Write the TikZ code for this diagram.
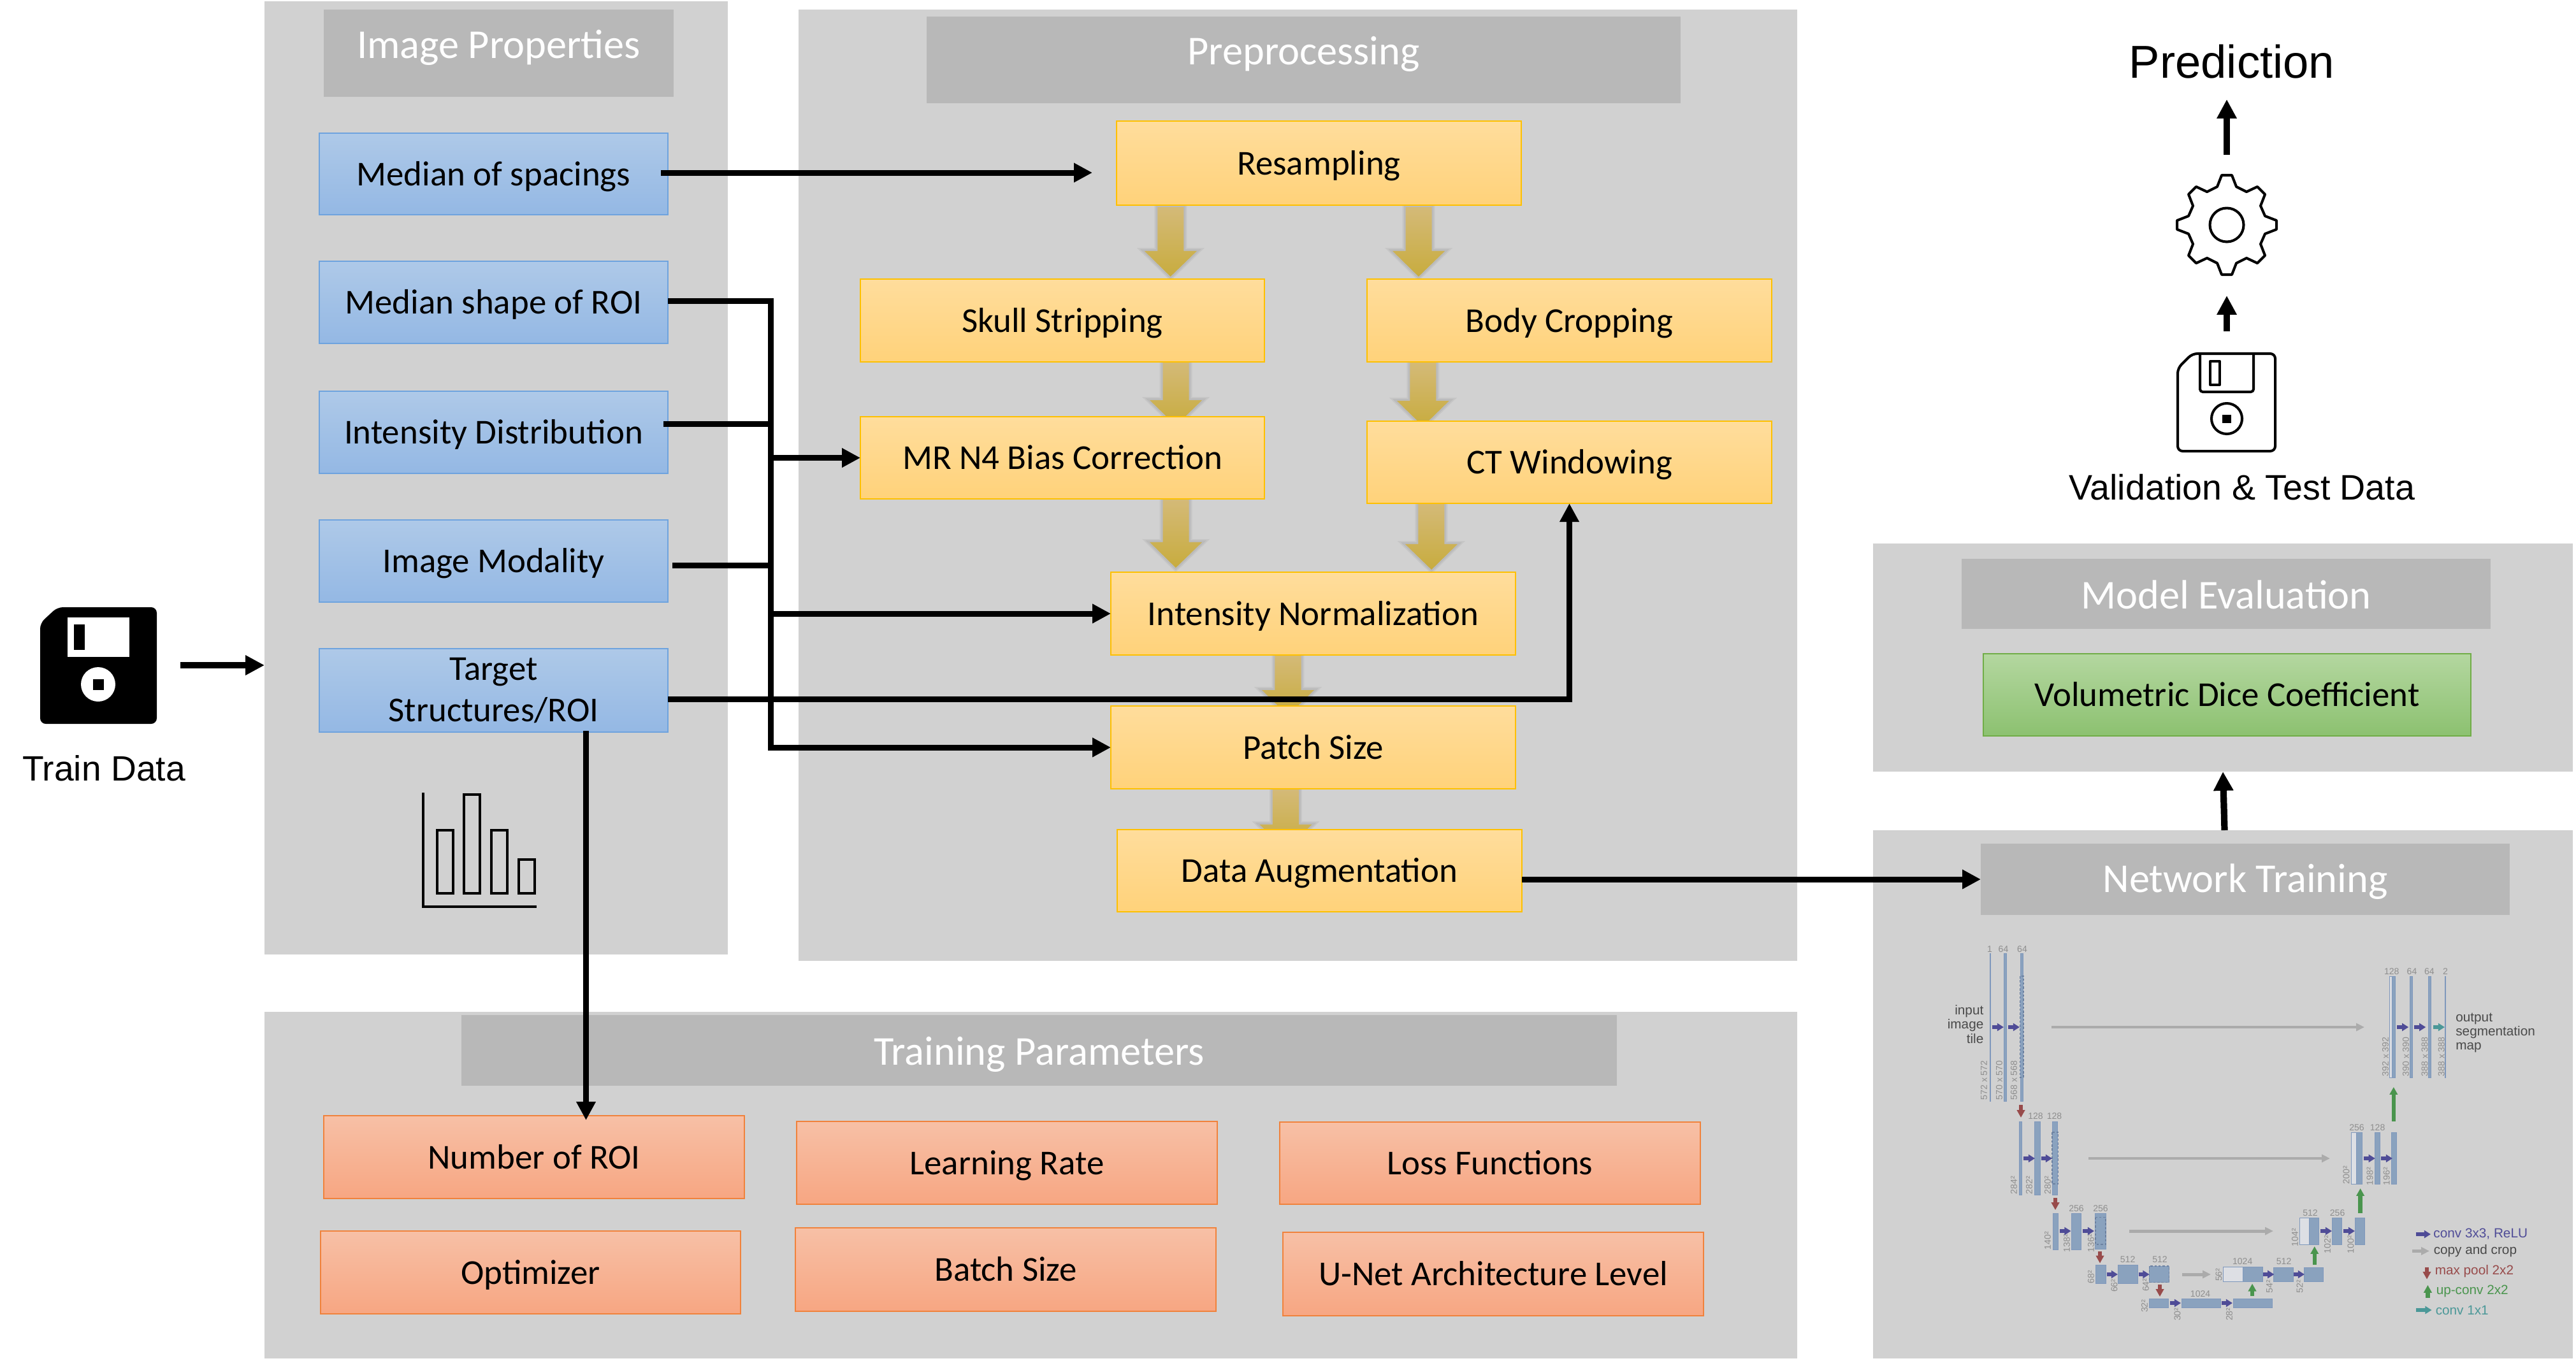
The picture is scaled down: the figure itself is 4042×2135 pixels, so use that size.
\documentclass[tikz,border=0pt]{standalone}
\usepackage{fontspec}
\setmainfont{Carlito}
\newfontfamily\arialf{Liberation Sans}
\usetikzlibrary{arrows.meta,calc}
\pgfdeclarelayer{panellayer}
\pgfdeclarelayer{goldlayer}
\pgfsetlayers{panellayer,goldlayer,main}
\newdimen\pxu \pxu=0.284528pt
\definecolor{panelc}{HTML}{D1D1D1}
\definecolor{headc}{HTML}{B8B8B8}
\definecolor{ubarc}{HTML}{8AA2BE}
\definecolor{uedge}{HTML}{7F98BC}
\definecolor{uwhite}{HTML}{DDDFE4}
\definecolor{upur}{HTML}{4F4C97}
\definecolor{ured}{HTML}{984B4B}
\definecolor{ugrn}{HTML}{4A954E}
\definecolor{uteal}{HTML}{4B9898}
\definecolor{ugry}{HTML}{ABABAB}
\definecolor{utxt}{HTML}{8E8E8E}
\definecolor{udark}{HTML}{4A4A4A}
\tikzset{
  panelbox/.style={fill=panelc,draw=none,inner sep=0pt,outer sep=0pt},
  headbox/.style={fill=headc,draw=none,inner sep=0pt,outer sep=0pt,text=white,align=center,font=\fontsize{18.3pt}{22pt}\selectfont},
  basebox/.style={inner sep=0pt,outer sep=0pt,align=center,line width=0.7pt,font=\fontsize{15.6pt}{18.5pt}\selectfont,text=black},
  bluebox/.style={basebox,draw={rgb,255:red,110;green,163;blue,222},top color={rgb,255:red,174;green,201;blue,232},bottom color={rgb,255:red,148;green,184;blue,228}},
  yelbox/.style={basebox,draw={rgb,255:red,255;green,192;blue,0},top color={rgb,255:red,255;green,221;blue,156},bottom color={rgb,255:red,255;green,210;blue,122}},
  salbox/.style={basebox,draw={rgb,255:red,240;green,130;blue,60},top color={rgb,255:red,247;green,192;blue,166},bottom color={rgb,255:red,247;green,166;blue,130}},
  grnbox/.style={basebox,draw={rgb,255:red,112;green,173;blue,71},top color={rgb,255:red,180;green,215;blue,160},bottom color={rgb,255:red,140;green,193;blue,112}},
  blk/.style={line width=2.56pt,draw=black,-{Triangle[length=8.25pt,width=8.2pt]}},
  blkline/.style={line width=2.56pt,draw=black},
  blkbig/.style={line width=2.9pt,draw=black,-{Triangle[length=8.5pt,width=8.4pt]}},
  goldfill/.style={top color={rgb,255:red,212;green,186;blue,120},bottom color={rgb,255:red,200;green,172;blue,62},draw=none},
  goldshade/.style={draw=black,draw opacity=0.05,fill=none},
  plaintxt/.style={inner sep=0pt,font=\arialf\fontsize{15.8pt}{18pt}\selectfont},
  iconline/.style={draw=black,line width=1.15pt,fill=none,line join=round},
  ubarst/.style={fill=ubarc,draw=uedge,line width=0.2pt},
  uwhitest/.style={fill=uwhite,draw=uedge,line width=0.3pt},
  udashst/.style={draw=uedge!85!black,line width=0.4pt,dash pattern=on 1pt off 0.8pt},
  ulabst/.style={inner sep=0pt,text=utxt,font=\arialf\fontsize{4pt}{5pt}\selectfont},
  urotst/.style={ulabst,rotate=90,anchor=west},
  usmall/.style={inner sep=0pt,font=\arialf\fontsize{5.9pt}{6.3pt}\selectfont},
}
\newcommand{\bx}[8][5.12pt]{\node[#7,minimum width={(#5-#3)*0.01cm},minimum height={(#6-#4)*0.01cm}] (#2) at ({(#3+#5)/2},{(#4+#6)/2}) {\rule[-12pt]{0pt}{\dimexpr 24pt+2\dimexpr #1\relax\relax}#8};}
\newcommand{\bxh}[8][5.12pt]{\node[#7,minimum width={(#5-#3)*0.01cm},minimum height={(#6-#4)*0.01cm}] (#2) at ({(#3+#5)/2},{(#4+#6)/2}) {\rule[-6pt]{0pt}{\dimexpr 12pt+2\dimexpr #1\relax\relax}#8};}
% gold block arrow between two points; #3 = head length in px
\newcommand{\goldshape}[3]{let \p1=#1,\p2=#2 in (\x1-20.5\pxu,\y1) -- (\x1+20.5\pxu,\y1) -- (\x1+20.5\pxu,\y2+#3\pxu) -- (\x1+41\pxu,\y2+#3\pxu) -- (\x2,\y2) -- (\x1-41\pxu,\y2+#3\pxu) -- (\x1-20.5\pxu,\y2+#3\pxu) -- cycle}
\newcommand{\goldarrow}[3]{%
  \path[goldshade,line width=2.8pt] \goldshape{#1}{#2}{#3};
  \path[goldshade,line width=1.6pt] \goldshape{#1}{#2}{#3};
  \path[goldfill] \goldshape{#1}{#2}{#3};}
\newcount\ucnt
\newcommand{\ulab}[3]{\global\advance\ucnt by 1 \node[ulabst] (ul\the\ucnt) at (#1,#2) {#3};}
\newcommand{\urot}[3]{\global\advance\ucnt by 1 \node[urotst] (ul\the\ucnt) at (#1,#2) {#3};}
\newcommand{\ubar}[4]{\path[ubarst] (#1,#2) rectangle (#3,#4);}
\newcommand{\uwh}[4]{\path[uwhitest] (#1,#2) rectangle (#3,#4);}
\newcommand{\udsh}[4]{\path[udashst] (#1,#2) rectangle (#3,#4);}
\newcommand{\uconv}[4][upur]{\draw[#1,line width=1.45pt,-{Triangle[length=2.9pt,width=3.4pt]}] (#2,#4) -- (#3,#4);}
\newcommand{\ucopy}[3]{\draw[ugry,line width=1.4pt,-{Triangle[length=3.7pt,width=3.4pt]}] (#1,#3) -- (#2,#3);}
\newcommand{\uvert}[4]{\draw[#4,line width=1.8pt,-{Triangle[length=3.4pt,width=3.5pt]}] (#1,#2) -- (#1,#3);}
\newcommand{\utxt}[4]{\global\advance\ucnt by 1 \node[usmall,anchor=#1,align=#2,text=#3] (ut\the\ucnt) #4;}
\begin{document}
\begin{tikzpicture}[x=0.01cm,y=-0.01cm]
\useasboundingbox (0,0) rectangle (4042,2135);
\begin{pgfonlayer}{panellayer}
\bx{imgpanel}{415}{2}{1142}{1498}{panelbox}{}
\bx{prepanel}{1253}{15}{2820}{1508}{panelbox}{}
\bx{trainpanel}{415}{1588}{2820}{2132}{panelbox}{}
\bx{evalpanel}{2939}{853}{4037}{1211}{panelbox}{}
\bx{netpanel}{2939}{1303}{4037}{2132}{panelbox}{}
\end{pgfonlayer}
% headers
\bx[2.2pt]{imghead}{508}{15}{1057}{152}{headbox}{Image Properties}
\bx[2.2pt]{prehead}{1454}{26}{2637}{162}{headbox}{Preprocessing}
\bxh[6.6pt]{trainhead}{724}{1593}{2537}{1704}{headbox}{Training Parameters}
\bxh[6.6pt]{evalhead}{3078}{877}{3908}{987}{headbox}{Model Evaluation}
\bxh[5.9pt]{nethead}{3108}{1324}{3938}{1436}{headbox}{Network Training}
% blue
\bx{spacing}{501}{209}{1048}{337}{bluebox}{Median of spacings}
\bx{roi}{501}{410}{1048}{539}{bluebox}{Median shape of ROI}
\bx{dist}{501}{614}{1048}{743}{bluebox}{Intensity Distribution}
\bx{modal}{501}{816}{1048}{945}{bluebox}{Image Modality}
\node[bluebox,minimum width={547*0.01cm},minimum height={131*0.01cm}] (target) at (774.5,1083.5) {Target\\Structures/ROI};
% yellow
\bx{resamp}{1752}{190}{2387}{322}{yelbox}{Resampling}
\bx{skull}{1350}{438}{1984}{568}{yelbox}{Skull Stripping}
\bx{body}{2145}{438}{2780}{568}{yelbox}{Body Cropping}
\bx{mrn}{1350}{654}{1984}{783}{yelbox}{MR N4 Bias Correction}
\bx{ctw}{2145}{661}{2780}{790}{yelbox}{CT Windowing}
\bx{norm}{1743}{898}{2378}{1028}{yelbox}{Intensity Normalization}
\bx{patch}{1743}{1108}{2378}{1238}{yelbox}{Patch Size}
\bx{aug}{1753}{1302}{2388}{1431}{yelbox}{Data Augmentation}
% salmon
\bx{num}{508}{1751}{1168}{1881}{salbox}{Number of ROI}
\bx{opt}{503}{1932}{1162}{2062}{salbox}{Optimizer}
\bx{lr}{1250}{1760}{1910}{1890}{salbox}{Learning Rate}
\bx{batch}{1248}{1927}{1908}{2058}{salbox}{Batch Size}
\bx{loss}{2008}{1761}{2668}{1890}{salbox}{Loss Functions}
\bx{unetl}{2013}{1934}{2673}{2065}{salbox}{U-Net Architecture Level}
% green
\bx{dice}{3112}{1026}{3877}{1155}{grnbox}{Volumetric Dice Coefficient}
% gold arrows
\begin{pgfonlayer}{goldlayer}
\goldarrow{([xshift=-232.5\pxu,yshift=-3\pxu]resamp.south)}{([xshift=169.5\pxu,yshift=4\pxu]skull.north)}{40}
\goldarrow{([xshift=156.5\pxu,yshift=-3\pxu]resamp.south)}{([xshift=-236.5\pxu,yshift=4\pxu]body.north)}{40}
\goldarrow{([xshift=178\pxu]skull.south)}{([xshift=178\pxu,yshift=-14\pxu]mrn.north)}{40}
\goldarrow{([xshift=-229.5\pxu]body.south)}{([xshift=-229.5\pxu,yshift=-8\pxu]ctw.north)}{40}
\goldarrow{([xshift=178\pxu]mrn.south)}{([xshift=-215.5\pxu,yshift=7\pxu]norm.north)}{40}
\goldarrow{([xshift=-216.5\pxu]ctw.south)}{([xshift=185.5\pxu,yshift=4\pxu]norm.north)}{40}
\goldarrow{([xshift=-39.5\pxu]norm.south)}{([xshift=-39.5\pxu,yshift=-15\pxu]patch.north)}{40}
\goldarrow{([xshift=-43\pxu]patch.south)}{([xshift=-53\pxu,yshift=-32\pxu]aug.north)}{40}
\end{pgfonlayer}
% black connectors
\coordinate (c1) at (1714,271);
\draw[blk] ([xshift=-11\pxu]spacing.east |- c1) -- (c1);
\coordinate (busT) at (1209,472);
\draw[blk] (roi.east |- busT) -- (busT) |- (patch.west);
\coordinate (cd) at (1041,665);
\draw[blkline] (cd) -- (busT |- cd);
\coordinate (cm) at (1055,887);
\draw[blkline] (cm) -- (busT |- cm);
\draw[blk] (busT |- mrn.west) -- (mrn.west);
\draw[blk] (busT |- norm.west) -- (norm.west);
\coordinate (ct) at (1048,1097);
\draw[blk] (ct) -| (ctw.south);
\coordinate (td) at (919.5,1147);
\draw[blk] (td) -- ([yshift=-7\pxu]td |- num.north);
\draw[blk] (aug.east |- nethead.west) -- (nethead.west);
\coordinate (ev) at (3490.5,1303);
\coordinate (ev2) at (3488,1211);
\draw[blkbig] (ev) -- (ev2);
\coordinate (tr) at (283,1044);
\draw[blkbig] (tr) -- (imgpanel.west |- tr);
% train data icon
\path[fill=black,rounded corners=2.5pt] (63,978) -- (90,953) -- (246,953) -- (246,1136) -- (63,1136) -- cycle;
\path[fill=white] (106,969) rectangle (203,1031);
\path[fill=black] (116,980) rectangle (133,1020);
\path[fill=white] (154,1074) circle (27);
\path[fill=black] (146,1066) rectangle (163,1083);
\node[plaintxt,font=\arialf\fontsize{15.7pt}{18pt}\selectfont] (traindata) at (163,1206) {Train Data};
% histogram
\draw[line width=1.4pt] (664,1244) -- (664,1423) -- (842,1423);
\draw[line width=1.4pt] (686,1303) rectangle (711,1402);
\draw[line width=1.4pt] (728,1247) rectangle (753,1402);
\draw[line width=1.4pt] (771,1303) rectangle (796,1402);
\draw[line width=1.4pt] (814,1349) rectangle (839,1402);
% top right
\node[plaintxt,font=\arialf\fontsize{20.6pt}{24pt}\selectfont] (pred) at (3502,97) {Prediction};
\coordinate (a2s) at (3494,243); \coordinate (a2e) at (3494,156);
\draw[blkbig] (a2s) -- (a2e);
\coordinate (a1s) at (3494,520); \coordinate (a1e) at (3494,464);
\draw[blkbig] (a1s) -- (a1e);
\begin{scope}[shift={(3494,353)},y=0.01cm]
\draw[iconline] (8,78)--(15,60)--(31,52)--(48,60)--(60,48)--(53,30)--(60,14)--(78,7)--(78,-7)--(60,-14)--(53,-30)--(60,-48)--(48,-60)--(31,-52)--(15,-60)--(8,-78)--(-8,-78)--(-15,-60)--(-31,-52)--(-48,-60)--(-60,-48)--(-53,-30)--(-60,-14)--(-78,-7)--(-78,7)--(-60,14)--(-53,30)--(-60,48)--(-48,60)--(-31,52)--(-15,60)--(-8,78)--cycle;
\draw[iconline] (0,0) circle (26.5);
\end{scope}
\draw[iconline,rounded corners=2.2pt] (3417,578) -- (3440,555) -- (3570,555) -- (3570,708) -- (3417,708) -- cycle;
\draw[iconline,rounded corners=1.2pt] (3452,555) -- (3452,615) -- (3536,615) -- (3536,555);
\draw[iconline] (3468,567) rectangle (3483,604);
\draw[iconline] (3494,657) circle (24);
\path[fill=black] (3487,651) rectangle (3501,664);
\node[plaintxt] (valdata) at (3518,765) {Validation \& Test Data};
% U-Net level 1
\ubar{3122.5}{1496}{3123.5}{1728}
\ubar{3144}{1496}{3148}{1728}
\ubar{3170.5}{1496}{3174.5}{1728}
\udsh{3169.5}{1532}{3175}{1691}
\ulab{3122}{1490}{1}\ulab{3143.5}{1490}{64}\ulab{3173}{1490}{64}
\urot{3113}{1727}{572 x 572}\urot{3137}{1727}{570 x 570}\urot{3160}{1727}{568 x 568}
\utxt{north east}{right}{udark}{at (3113,1577) {input\\image\\tile}}
\uconv{3126}{3144}{1612}\uconv{3151}{3169}{1612}
\ucopy{3219}{3710}{1612}
\uvert{3171}{1734}{1754}{ured}
% level 2
\ubar{3168.4}{1760}{3172.6}{1875}
\ubar{3192.6}{1760}{3201}{1875}
\ubar{3220.7}{1760}{3228.8}{1875}
\udsh{3220}{1777}{3229.5}{1858}
\ulab{3194}{1752}{128}\ulab{3223.5}{1752}{128}
\urot{3160}{1875}{284²}\urot{3184}{1875}{282²}\urot{3213}{1875}{280²}
\uconv{3175.4}{3193}{1818}\uconv{3203}{3220}{1818}
\ucopy{3277}{3656}{1818}
\uvert{3225}{1880}{1899}{ured}
% level 3
\ubar{3221.4}{1904.5}{3229.5}{1961}
\ubar{3250.5}{1904.5}{3265.6}{1961}
\ubar{3287.4}{1904.5}{3304}{1960}
\udsh{3288}{1910.5}{3304}{1953}
\ulab{3258}{1897}{256}\ulab{3296}{1897}{256}
\urot{3213}{1962}{140²}\urot{3243}{1966}{138²}\urot{3281}{1966}{136²}
\uconv{3232}{3249.5}{1932}\uconv{3268.4}{3286}{1932}
\ucopy{3341}{3567}{1932}
\uvert{3295}{1963.5}{1982.5}{ured}
% level 4
\ubar{3288}{1985.5}{3304}{2014}
\ubar{3323.5}{1985.5}{3354.4}{2014}
\ubar{3372.6}{1987}{3403.5}{2012.5}
\udsh{3372.6}{1987}{3403.5}{2012.5}
\ulab{3338.6}{1977}{512}\ulab{3389}{1977}{512}
\urot{3281}{2015}{68²}\urot{3317.5}{2028.5}{66²}\urot{3367}{2027.6}{64²}
\uconv{3305.6}{3323}{2000}\uconv{3356}{3372.6}{2000}
\ucopy{3424}{3469}{2000}
\uvert{3389}{2016}{2035}{ured}
% level 5
\ubar{3372}{2038.5}{3402}{2052}
\ubar{3423.5}{2038.5}{3484}{2052}
\ubar{3504}{2038.5}{3565}{2052}
\ulab{3452.6}{2030.6}{1024}
\urot{3365}{2060.6}{32²}\urot{3416.5}{2073.6}{30²}\urot{3498}{2073.6}{28²}
\uconv{3405}{3422}{2045}\uconv{3486}{3503}{2045}
% up level 4
\uwh{3488.4}{1988.6}{3519}{2011}
\ubar{3519}{1988.6}{3550}{2011}
\ulab{3518.7}{1979.5}{1024}
\urot{3481.4}{2011.6}{56²}
\uvert{3534}{2034}{2014.6}{ugrn}
\ubar{3567.4}{1989}{3598}{2011}
\ubar{3615}{1989}{3645.5}{2011}
\ulab{3583.6}{1980}{512}
\urot{3561}{2030}{54²}\urot{3608.5}{2030}{52²}
\uconv{3551}{3568.4}{2000}\uconv{3599}{3616}{2000}
\uvert{3631.7}{1985}{1956}{ugrn}
% up level 3
\uwh{3608}{1911}{3623.4}{1953.5}
\ubar{3623.4}{1911}{3638.6}{1953.5}
\ubar{3659.4}{1911}{3674.6}{1953.5}
\ubar{3695.3}{1911}{3710.5}{1953.5}
\ulab{3625}{1904}{512}\ulab{3667.6}{1904}{256}
\urot{3601}{1957}{104²}\urot{3652}{1968}{102²}\urot{3688.4}{1968}{100²}
\uconv{3641}{3659}{1932}\uconv{3677}{3695}{1932}
\uvert{3703.6}{1903.6}{1865}{ugrn}
% up level 2
\uwh{3689.8}{1777}{3697.7}{1858}
\ubar{3697.7}{1777}{3706.4}{1858}
\ubar{3726.4}{1777}{3734}{1858}
\ubar{3752}{1777}{3760}{1858}
\ulab{3698}{1770}{256}\ulab{3730.6}{1770}{128}
\urot{3681.5}{1859}{200²}\urot{3718.5}{1861}{198²}\urot{3744.7}{1861}{196²}
\uconv{3708.8}{3726.8}{1818}\uconv{3736}{3754}{1818}
\uvert{3755.8}{1759.6}{1706}{ugrn}
% up level 1
\uwh{3749.6}{1532.4}{3753.4}{1691}
\ubar{3753.4}{1532.4}{3758.6}{1691}
\ubar{3781}{1532.4}{3785}{1691}
\ubar{3810.4}{1532.4}{3814.6}{1691}
\ubar{3836.5}{1532.4}{3837.5}{1691}
\ulab{3752.7}{1524.6}{128}\ulab{3784.5}{1524.6}{64}\ulab{3811.8}{1524.6}{64}\ulab{3837}{1524.6}{2}
\urot{3743}{1690}{392 x 392}\urot{3775}{1690}{390 x 390}\urot{3804.5}{1690}{388 x 388}\urot{3830.8}{1690}{388 x 388}
\uconv{3761.3}{3779.3}{1612}\uconv{3788.3}{3806.3}{1612}
\uconv[uteal]{3818}{3836}{1612}
\utxt{north west}{left}{udark}{at (3852.6,1589) {output\\segmentation\\map}}
% legend
\uconv{3791}{3814}{1937}
\utxt{west}{left}{upur}{at (3817.7,1937) {conv 3x3, ReLU}}
\ucopy{3785}{3812}{1963.4}
\utxt{west}{left}{udark}{at (3818,1963.4) {copy and crop}}
\uvert{3808}{1988.6}{2007.7}{ured}
\utxt{west}{left}{ured}{at (3820,1995.5) {max pool 2x2}}
\uvert{3809.4}{2036.7}{2016.8}{ugrn}
\utxt{west}{left}{ugrn}{at (3822,2026) {up-conv 2x2}}
\uconv[uteal]{3791.4}{3815.6}{2056}
\utxt{west}{left}{uteal}{at (3821,2056) {conv 1x1}}
\end{tikzpicture}
\end{document}
